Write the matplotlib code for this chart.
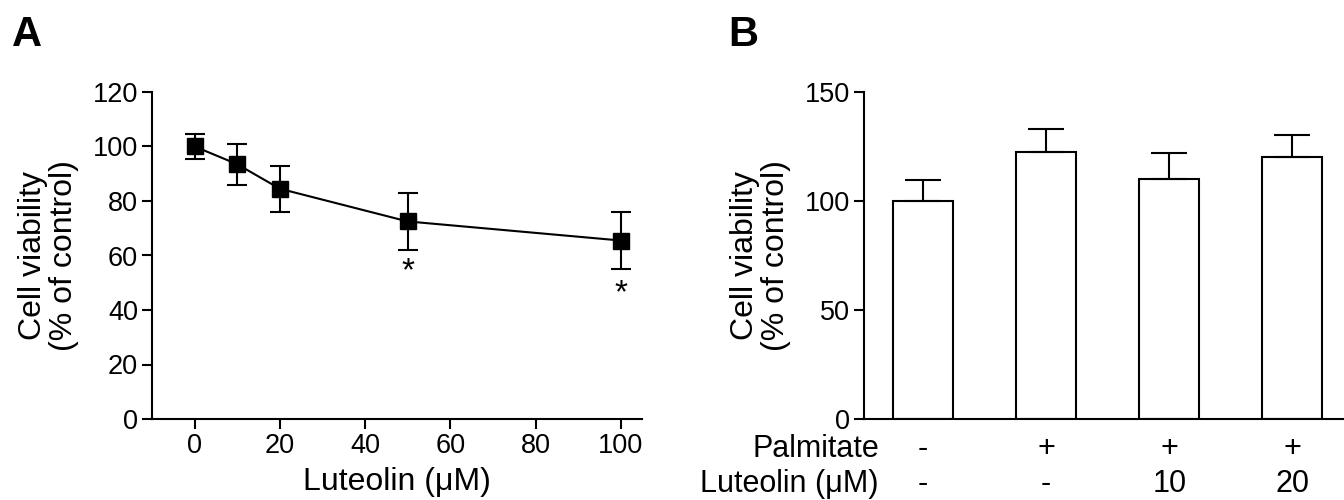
import matplotlib
matplotlib.use("Agg")
import matplotlib.pyplot as plt

plt.rcParams['font.family'] = ['Liberation Sans', 'DejaVu Sans']

# panel A data
conc = [0, 10, 20, 50, 100]
viab = [100, 93.5, 84.5, 72.5, 65.5]
viab_err = [4.5, 7.5, 8.5, 10.5, 10.5]
star_x = [50.8, 50, 100]
star_y = [70.0, 54, 46]

# panel B data
groups = [0, 1, 2, 3]
bar_vals = [100, 122.5, 110, 120]
bar_err = [9.5, 10.5, 12, 10.5]
palm_labels = ['-', '+', '+', '+']
lut_labels = ['-', '-', '10', '20']

fig = plt.figure(figsize=(13.44, 5.0), dpi=100)

tick_fs = 19.5
lab_fs = 23
row_fs = 22

# ---- A ----
axA = fig.add_axes([0.1131, 0.162, 0.3646, 0.654])
axA.errorbar(conc, viab, yerr=viab_err, color='black', marker='s', markersize=12,
             linewidth=1.5, elinewidth=1.5, capsize=7, capthick=1.5)
for x, y in zip(star_x, star_y):
    axA.text(x, y, '*', ha='center', va='center', fontsize=24, zorder=5)
axA.set_xlim(-10, 105)
axA.set_ylim(0, 120)
axA.set_xticks([0, 20, 40, 60, 80, 100])
axA.set_yticks([0, 20, 40, 60, 80, 100, 120])
axA.spines['top'].set_visible(False)
axA.spines['right'].set_visible(False)
for s in ['left', 'bottom']:
    axA.spines[s].set_linewidth(1.5)
axA.tick_params(direction='out', length=7, width=1.5, labelsize=tick_fs, pad=3)
axA.set_xlabel('Luteolin (μM)', fontsize=lab_fs, labelpad=6)
axA.set_ylabel('Cell viability\n(% of control)', fontsize=lab_fs, labelpad=10,
               linespacing=1.05)

# ---- B ----
axB = fig.add_axes([0.6429, 0.162, 0.3571, 0.654])
axB.bar(groups, bar_vals, width=0.49, color='white', edgecolor='black', linewidth=1.5)
axB.errorbar(groups, bar_vals, yerr=[[0] * 4, bar_err], fmt='none', ecolor='black',
             elinewidth=1.5, capsize=13, capthick=1.5)
axB.set_xlim(-0.48, 3.42)
axB.set_ylim(0, 150)
axB.set_yticks([0, 50, 100, 150])
axB.set_xticks([])
axB.spines['top'].set_visible(False)
axB.spines['right'].set_visible(False)
for s in ['left', 'bottom']:
    axB.spines[s].set_linewidth(1.5)
axB.tick_params(direction='out', length=7, width=1.5, labelsize=tick_fs, pad=3)
axB.set_ylabel('Cell viability\n(% of control)', fontsize=lab_fs, labelpad=10,
               linespacing=1.05)

trans = axB.get_xaxis_transform()
axB.text(-0.36, -0.093, 'Palmitate', transform=trans, ha='right', va='center', fontsize=row_fs)
axB.text(-0.36, -0.2, 'Luteolin (μM)', transform=trans, ha='right', va='center', fontsize=row_fs)
for g, p, l in zip(groups, palm_labels, lut_labels):
    axB.text(g, -0.093, p, transform=trans, ha='center', va='center', fontsize=row_fs)
    axB.text(g, -0.2, l, transform=trans, ha='center', va='center', fontsize=row_fs)

fig.text(0.009, 0.93, 'A', fontsize=30, fontweight='bold', va='center')
fig.text(0.542, 0.93, 'B', fontsize=30, fontweight='bold', va='center')

fig.savefig('out.png', dpi=100)
